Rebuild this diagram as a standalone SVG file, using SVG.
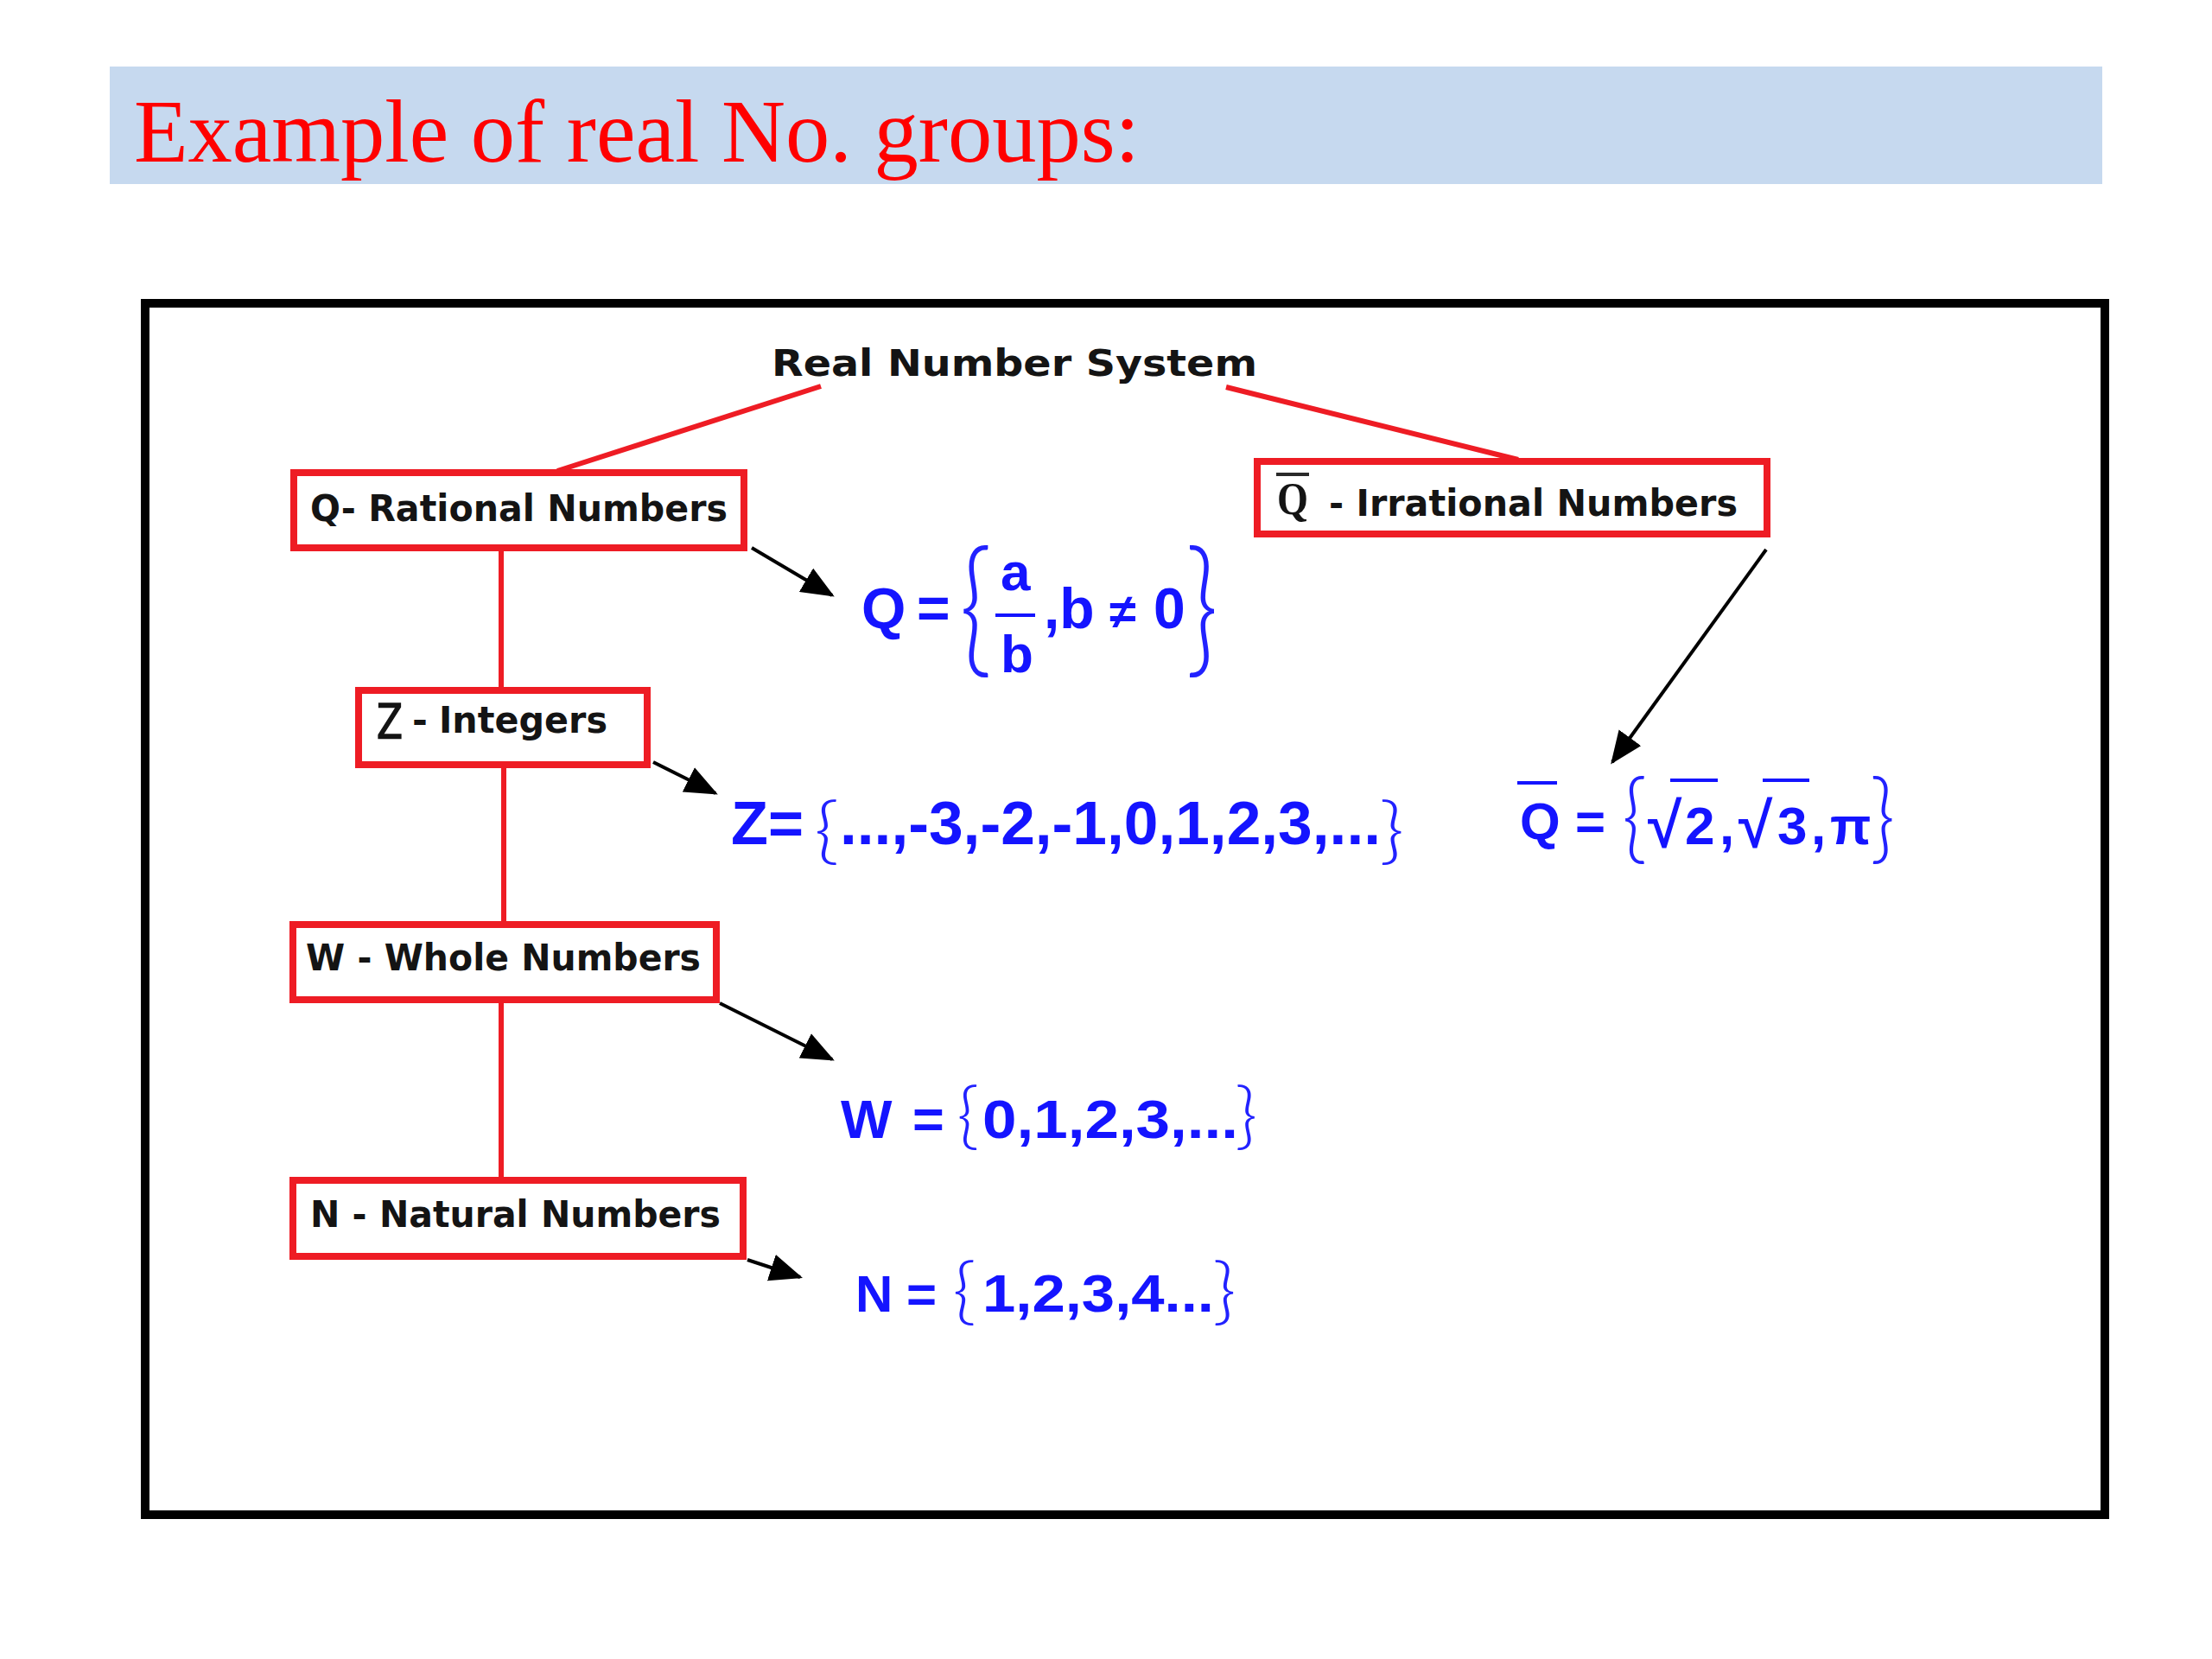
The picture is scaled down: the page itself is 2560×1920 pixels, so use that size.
<svg xmlns="http://www.w3.org/2000/svg" width="2560" height="1920" viewBox="0 0 2560 1920">
<defs>
<marker id="ah" markerUnits="userSpaceOnUse" markerWidth="38" markerHeight="32" viewBox="0 0 12 10" refX="11" refY="5" orient="auto">
<path d="M0,0 L12,5 L0,10 z" fill="#000"/>
</marker>
</defs>
<style>
.box{fill:#fff;stroke:#ee1c24;stroke-width:8}
.lbl{font-family:"DejaVu Sans",Verdana,sans-serif;font-weight:bold;font-size:43px;fill:#141414}
.red{stroke:#ee1c24;stroke-width:6;fill:none}
.arr{stroke:#000;stroke-width:4;fill:none;marker-end:url(#ah)}
.f{font-family:"Liberation Sans",Arial,sans-serif;font-weight:bold;fill:#1414ff}
.br{font-family:Lato,"DejaVu Sans",sans-serif;font-weight:300;font-size:100px;fill:#2222ff}
.rad{font-family:"Liberation Sans",Arial,sans-serif;font-weight:normal;fill:#1414ff}
.bar{stroke:#1414ff;stroke-width:4}
</style>
<rect width="2560" height="1920" fill="#fff"/>

<g id="title">
<rect x="127" y="77" width="2306" height="136" fill="#c6d9ef"/>
<text x="155" y="187" font-family="Liberation Serif,'Times New Roman',serif" font-size="103" fill="#ff0000" textLength="1164" lengthAdjust="spacingAndGlyphs">Example of real No. groups:</text>
</g>

<g id="frame">
<rect x="168" y="351" width="2268" height="1402" fill="none" stroke="#000" stroke-width="10"/>
</g>

<g id="connectors">
<line class="red" x1="950" y1="447" x2="645" y2="545"/>
<line class="red" x1="1419" y1="448" x2="1757" y2="532"/>
<line class="red" x1="580" y1="638" x2="580" y2="797"/>
<line class="red" x1="583" y1="887" x2="583" y2="1068"/>
<line class="red" x1="580" y1="1161" x2="580" y2="1364"/>
<line class="arr" x1="870" y1="634" x2="963" y2="689"/>
<line class="arr" x1="756" y1="882" x2="828" y2="918"/>
<line class="arr" x1="833" y1="1161" x2="963" y2="1226"/>
<line class="arr" x1="865" y1="1458" x2="926" y2="1478"/>
<line class="arr" x1="2044" y1="636" x2="1866" y2="882"/>
</g>

<g id="root">
<text x="893" y="435" class="lbl" font-size="52" textLength="562" lengthAdjust="spacingAndGlyphs">Real Number System</text>
</g>

<g id="rational">
<rect class="box" x="340" y="547" width="521" height="87"/>
<text x="359" y="603" class="lbl" textLength="483" lengthAdjust="spacingAndGlyphs">Q- Rational Numbers</text>
</g>

<g id="irrational">
<rect class="box" x="1455" y="534" width="590" height="84"/>
<line x1="1477" y1="549" x2="1515" y2="549" stroke="#2a2a2a" stroke-width="4"/>
<text x="1478" y="595" font-family="Liberation Serif,'Times New Roman',serif" font-weight="bold" font-size="52" fill="#141414" textLength="36" lengthAdjust="spacingAndGlyphs">Q</text>
<text x="1538" y="597" class="lbl" textLength="473" lengthAdjust="spacingAndGlyphs">- Irrational Numbers</text>
</g>

<g id="integers">
<rect class="box" x="415" y="799" width="334" height="86"/>
<text x="436" y="854" font-family="DejaVu Sans,sans-serif" font-size="55" fill="#141414" stroke="#141414" stroke-width="1.5" textLength="30" lengthAdjust="spacingAndGlyphs">Z</text>
<text x="477" y="848" class="lbl" font-size="41">-</text>
<text x="508" y="848" class="lbl" font-size="41" textLength="195" lengthAdjust="spacingAndGlyphs">Integers</text>
</g>

<g id="whole">
<rect class="box" x="339" y="1070" width="490" height="87"/>
<text x="354" y="1123" class="lbl" textLength="457" lengthAdjust="spacingAndGlyphs">W - Whole Numbers</text>
</g>

<g id="natural">
<rect class="box" x="339" y="1366" width="521" height="88"/>
<text x="359" y="1420" class="lbl" textLength="475" lengthAdjust="spacingAndGlyphs">N - Natural Numbers</text>
</g>

<g id="set-q">
<text class="f" x="997" y="727" font-size="66">Q</text>
<text class="f" x="1061" y="727" font-size="66">=</text>
<text class="br" transform="translate(1110,761) scale(1.3,1.72)">{</text>
<text class="f" x="1158" y="683" font-size="62">a</text>
<line class="bar" x1="1152" y1="712" x2="1198" y2="712"/>
<text class="f" x="1158" y="778" font-size="62">b</text>
<text class="f" x="1208" y="727" font-size="66">,b</text>
<text class="f" x="1284" y="727" font-size="56">≠</text>
<text class="f" x="1335" y="727" font-size="66">0</text>
<text class="br" transform="translate(1372,761) scale(1.3,1.72)">}</text>
</g>

<g id="set-z">
<text class="f" x="846" y="977" font-size="70" textLength="84" lengthAdjust="spacingAndGlyphs">Z=</text>
<text class="br" transform="translate(942,990) scale(1.0,0.85)">{</text>
<text class="f" x="972" y="977" font-size="70" textLength="626" lengthAdjust="spacingAndGlyphs">...,-3,-2,-1,0,1,2,3,...</text>
<text class="br" transform="translate(1596,990) scale(1.0,0.85)">}</text>
</g>

<g id="set-irr">
<line class="bar" x1="1756" y1="906" x2="1802" y2="906"/>
<text class="f" x="1759" y="971" font-size="60">Q</text>
<text class="f" x="1823" y="971" font-size="60">=</text>
<text class="br" transform="translate(1877,985) scale(1.0,1.15)">{</text>
<text class="rad" x="1906" y="980" font-size="72" stroke="#1414ff" stroke-width="1.5">√</text>
<line class="bar" x1="1933" y1="903" x2="1988" y2="903"/>
<text class="f" x="1950" y="977" font-size="62">2</text>
<text class="f" x="1990" y="977" font-size="62">,</text>
<text class="rad" x="2011" y="980" font-size="72" stroke="#1414ff" stroke-width="1.5">√</text>
<line class="bar" x1="2040" y1="903" x2="2094" y2="903"/>
<text class="f" x="2057" y="977" font-size="62">3</text>
<text class="f" x="2096" y="977" font-size="62">,</text>
<text class="f" x="2118" y="977" font-size="62">π</text>
<text class="br" transform="translate(2164,985) scale(1.0,1.15)">}</text>
</g>

<g id="set-w">
<text class="f" x="973" y="1317" font-size="63">W</text>
<text class="f" x="1056" y="1317" font-size="63">=</text>
<text class="br" transform="translate(1107,1320) scale(0.9,0.85)">{</text>
<text class="f" x="1137" y="1317" font-size="63" textLength="296" lengthAdjust="spacingAndGlyphs">0,1,2,3,...</text>
<text class="br" transform="translate(1429,1320) scale(0.9,0.85)">}</text>
</g>

<g id="set-n">
<text class="f" x="990" y="1518" font-size="60">N</text>
<text class="f" x="1049" y="1518" font-size="60">=</text>
<text class="br" transform="translate(1102,1523) scale(0.95,0.85)">{</text>
<text class="f" x="1137" y="1518" font-size="62" textLength="268" lengthAdjust="spacingAndGlyphs">1,2,3,4...</text>
<text class="br" transform="translate(1403,1523) scale(0.95,0.85)">}</text>
</g>
</svg>
